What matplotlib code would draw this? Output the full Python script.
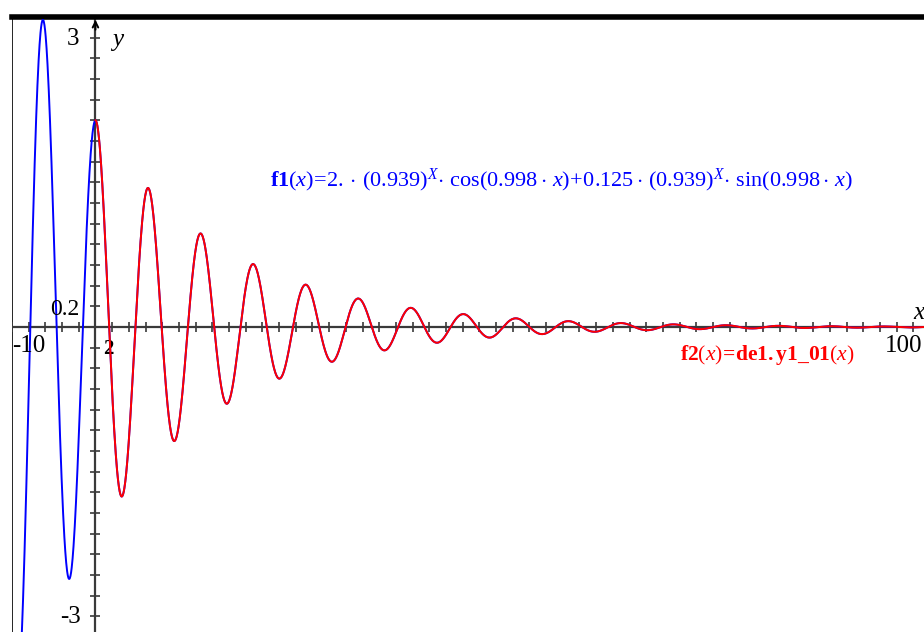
import matplotlib
matplotlib.use('Agg')
import matplotlib.pyplot as plt
import numpy as np

plt.rcParams['font.family'] = 'Liberation Serif'
plt.rcParams['mathtext.fontset'] = 'custom'
plt.rcParams['mathtext.rm'] = 'Liberation Serif'
plt.rcParams['mathtext.it'] = 'Liberation Serif:italic'
plt.rcParams['mathtext.bf'] = 'Liberation Serif:bold'

# graph window (TI-Nspire style)
x_window = [-10, 100]
y_window = [-3, 3]
x_scale = 2
y_scale = 0.2

# f1(x) = 2.*(0.939)^x*cos(0.998x) + 0.125*(0.939)^x*sin(0.998x)
f1_coef = [2.0, 0.125]
f1_base = 0.939
f1_freq = 0.998
# f2 = de1.y1_01, the ODE solution, plotted from x=0
f2_start = 0

f1_label = (r'$\mathbf{f1}(x)\!=\!2.\cdot\,(0.939)^{X}\!\cdot\,\cos(0.998\cdot\,x)'
            r'\!+\!0.125\cdot\,(0.939)^{X}\!\cdot\,\sin(0.998\cdot\,x)$')
f2_label = r'$\mathbf{f2}(x)\!\mathbf{=}\!\mathbf{de1.y1\_01}(x)$'


def f1(x):
    return (f1_base ** x) * (f1_coef[0] * np.cos(f1_freq * x)
                             + f1_coef[1] * np.sin(f1_freq * x))


fig = plt.figure(figsize=(9.24, 6.32), dpi=100)
ax = fig.add_axes([12 / 924, -5 / 632, 918 / 924, 620 / 632])
ax.set_xlim(x_window)
ax.set_ylim(y_window)

# curves
xs = np.linspace(x_window[0], x_window[1], 3000)
ax.plot(xs, f1(xs), color='#0000ff', lw=1.4, zorder=3)
xs2 = xs[xs >= f2_start]
ax.plot(xs2, f1(xs2), color='#ff0000', lw=1.4, zorder=4)

# frame: thick bar on top, thin line on the left
axis_col = '#3a3a3a'
ax.spines['right'].set_visible(False)
ax.spines['left'].set_visible(False)
ax.spines['bottom'].set_visible(False)
ax.spines['top'].set_linewidth(4)
ax.spines['top'].set_color('black')
ax.axvline(x_window[0], color='black', lw=1.2)

# axes through origin
ax.axhline(0, color=axis_col, lw=1.6, zorder=2)
ax.axvline(0, color=axis_col, lw=1.6, zorder=2)

# tick marks as small crosses on the axes
ax.set_xticks([])
ax.set_yticks([])
xt = np.arange(x_window[0], x_window[1] + 0.01, x_scale)
yt = np.arange(y_window[0], y_window[1] + 0.01, y_scale)
ax.plot(xt, np.zeros_like(xt), ls='none', marker='|', ms=7, mew=1.2,
        color=axis_col, zorder=2)
ax.plot(np.zeros_like(yt), yt, ls='none', marker='_', ms=7, mew=1.2,
        color=axis_col, zorder=2)

# axis arrow
ax.annotate('', xy=(0, 3.0), xytext=(0, 2.85),
            arrowprops=dict(arrowstyle='->', color='black', lw=1.4))

# window labels
ax.text(-1.9, 2.79, '3', fontsize=18, ha='right', va='center')
ax.text(2.0, 2.78, 'y', fontsize=18, style='italic', ha='left', va='center')
ax.text(-1.9, 0.17, '0.2', fontsize=17, ha='right', va='center')
ax.text(-10.0, -0.18, '-10', fontsize=18, ha='left', va='center')
ax.text(0.95, -0.21, '2', fontsize=15, fontweight='bold', ha='left', va='center')
ax.text(94.6, -0.18, '100', fontsize=18, ha='left', va='center')
ax.text(98.0, 0.14, 'x', fontsize=18, style='italic', ha='left', va='center')
ax.text(-1.7, -2.81, '-3', fontsize=18, ha='right', va='center')

# function labels
ax.text(20.9, 1.42, f1_label, fontsize=16, color='#0000ff', ha='left', va='center')
ax.text(70.1, -0.27, f2_label, fontsize=15.5, color='#ff0000', ha='left', va='center')

fig.savefig('out.png', dpi=100)
